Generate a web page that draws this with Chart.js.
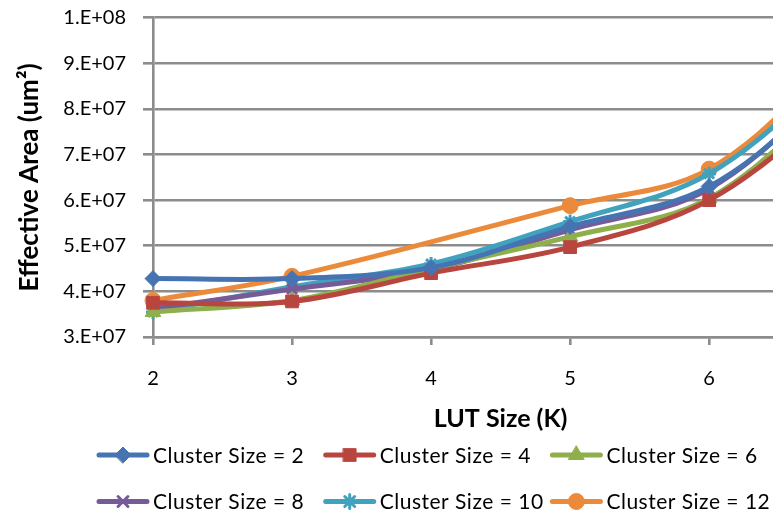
<!DOCTYPE html>
<html>
<head>
<meta charset="utf-8">
<script src="https://cdn.jsdelivr.net/npm/chart.js@4.4.1/dist/chart.umd.min.js"></script>
<style>
  html, body { margin: 0; padding: 0; background: #fff; overflow: hidden; }
  #wrap { width: 773px; height: 510px; overflow: hidden; position: relative; }
  #chart { position: absolute; left: 0; top: 0; }
</style>
</head>
<body>
<div id="wrap"><canvas id="chart" width="876" height="510"></canvas></div>
<script>
// LUT size K (the original chart runs to 7, the picture is cropped at about 6.5)
const lutSizes = ['2', '3', '4', '5', '6', '7'];

const cluster2  = [4.28e7, 4.28e7, 4.52e7, 5.42e7, 6.30e7, 8.70e7];
const cluster4  = [3.75e7, 3.78e7, 4.40e7, 4.97e7, 6.00e7, 8.30e7];
const cluster6  = [3.55e7, 3.80e7, 4.50e7, 5.20e7, 6.04e7, 8.55e7];
const cluster8  = [3.62e7, 4.05e7, 4.48e7, 5.35e7, 6.25e7, 8.80e7];
const cluster10 = [3.55e7, 4.10e7, 4.60e7, 5.53e7, 6.58e7, 9.05e7];
const cluster12 = [3.80e7, 4.33e7, null,   5.88e7, 6.68e7, 9.30e7];

const seriesNames = ['Cluster Size = 2', 'Cluster Size = 4', 'Cluster Size = 6',
                     'Cluster Size = 8', 'Cluster Size = 10', 'Cluster Size = 12'];
const yTickLabels = ['3.E+07', '4.E+07', '5.E+07', '6.E+07', '7.E+07', '8.E+07', '9.E+07', '1.E+08'];

const colors = ['#4674B3', '#B8463F', '#8EAF4C', '#775B99', '#41A2BE', '#EC8A3C'];
const markers = ['rectRot', 'rect', 'triangle', 'crossRot', 'star', 'circle'];
const markerSize = [8, 9, 9, 7, 7, 8];

const allSeries = [cluster2, cluster4, cluster6, cluster8, cluster10, cluster12];
const gridColor = '#8c8c8c';
const fontFamily = 'Lato, "Open Sans", sans-serif';

const datasets = allSeries.map((vals, i) => ({
    label: seriesNames[i],
    data: vals,
    borderColor: colors[i],
    backgroundColor: colors[i],
    borderWidth: 5,
    pointStyle: markers[i],
    pointRadius: markerSize[i],
    pointBorderWidth: (markers[i] === 'crossRot' || markers[i] === 'star') ? 3 : 1,
    pointHoverRadius: markerSize[i],
    tension: 0.35,
    spanGaps: true,
    fill: false
}));

// legend drawn like Excel: short line with the marker in the middle
const excelLegend = {
    id: 'excelLegend',
    afterDraw(chart) {
        const ctx = chart.ctx;
        const startX = 97, colW = 226.7, rows = [455, 501.5];
        ctx.save();
        chart.data.datasets.forEach((ds, i) => {
            const x = startX + (i % 3) * colW;
            const y = rows[Math.floor(i / 3)];
            ctx.strokeStyle = ds.borderColor;
            ctx.fillStyle = ds.backgroundColor;
            ctx.lineWidth = 5;
            ctx.lineCap = 'round';
            ctx.beginPath();
            ctx.moveTo(x + 2, y);
            ctx.lineTo(x + 50, y);
            ctx.stroke();
            ctx.lineWidth = ds.pointBorderWidth;
            Chart.helpers.drawPoint(ctx, {
                pointStyle: ds.pointStyle,
                radius: ds.pointRadius,
                rotation: 0,
                borderWidth: ds.pointBorderWidth
            }, x + 26, y);
            ctx.fillStyle = '#000';
            ctx.font = '21px ' + fontFamily;
            ctx.letterSpacing = '0.5px';
            ctx.textBaseline = 'middle';
            ctx.textAlign = 'left';
            ctx.fillText(ds.label, x + 56, y + 1);
        });
        ctx.restore();
    }
};

const ctx = document.getElementById('chart').getContext('2d');
const chart = new Chart(ctx, {
    type: 'line',
    data: { labels: lutSizes, datasets: datasets },
    plugins: [excelLegend],
    options: {
        responsive: false,
        animation: false,
        devicePixelRatio: 1,
        layout: { padding: { top: 17.7, right: 0, bottom: 76, left: 0 } },
        plugins: {
            legend: { display: false },
            tooltip: { enabled: false }
        },
        scales: {
            x: {
                type: 'category',
                offset: false,
                grid: {
                    display: true,
                    drawOnChartArea: false,
                    drawTicks: true,
                    tickLength: 8,
                    color: gridColor,
                    lineWidth: 2.6
                },
                border: { display: true, color: gridColor, width: 2.6 },
                ticks: {
                    color: '#000',
                    font: { family: fontFamily, size: 20 },
                    padding: 22,
                    maxRotation: 0
                },
                title: {
                    display: true,
                    text: 'LUT Size (K)',
                    color: '#000',
                    font: { family: fontFamily, size: 25, weight: 'bold' },
                    padding: { top: 0, bottom: 0 }
                },
                afterFit(scale) { scale.height = 97; }
            },
            y: {
                min: 3e7,
                max: 1e8,
                ticks: {
                    stepSize: 1e7,
                    color: '#000',
                    font: { family: fontFamily, size: 20 },
                    padding: 17,
                    callback: (value, index) => yTickLabels[index]
                },
                grid: {
                    color: gridColor,
                    lineWidth: 2.6,
                    tickLength: 10
                },
                border: { display: true, color: gridColor, width: 2.6 },
                title: {
                    display: true,
                    text: 'Effective Area (um²)',
                    color: '#000',
                    font: { family: fontFamily, size: 26, weight: 'bold' },
                    padding: { top: 14, bottom: 0 }
                },
                afterFit(scale) {
                    scale.width = 153;
                    scale.paddingTop = 0;
                    scale.paddingBottom = 0;
                }
            }
        }
    }
});
</script>
</body>
</html>
